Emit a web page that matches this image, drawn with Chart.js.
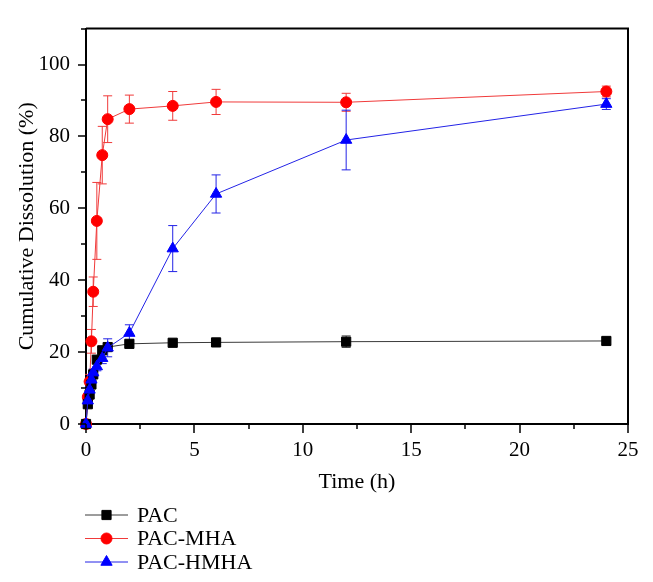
<!DOCTYPE html>
<html>
<head>
<meta charset="utf-8">
<script src="https://cdn.jsdelivr.net/npm/chart.js@4.4.0/dist/chart.umd.min.js"></script>
<style>
  html, body { margin: 0; padding: 0; background: #fff; }
  canvas { display: block; }
</style>
</head>
<body>
<canvas id="dissolutionChart" width="653" height="582"></canvas>
<script>
  // sampling times (h)
  const times = [0, 0.083, 0.167, 0.25, 0.333, 0.5, 0.75, 1, 2, 4, 6, 12, 24];

  // cumulative dissolution (%) and SD
  const pac     = [0, 5.5, 8.2, 11, 13.8, 17.9, 20.5, 21.4, 22.3, 22.6, 22.7, 22.9, 23.1];
  const pacErr  = [0, 0.8, 0.8, 0.8, 0.8, 0.8, 0.8, 0.6, 0.5, 0.5, 0.5, 1.6, 1.0];
  const mha     = [0, 7.5, 11.8, 23, 36.8, 56.5, 74.8, 84.8, 87.6, 88.5, 89.6, 89.5, 92.5];
  const mhaErr  = [0, 1, 2, 3.3, 4.1, 10.7, 8, 6.5, 3.9, 4, 3.5, 2.5, 1.5];
  const hmha    = [0, 6.5, 9.5, 12.3, 14.3, 16, 18.3, 21.2, 25.3, 48.8, 64, 79, 89];
  const hmhaErr = [0, 1, 1, 1, 1, 1.2, 1.5, 2.5, 2.3, 6.4, 5.3, 8.3, 1.5];

  const xTicks = [0, 5, 10, 15, 20, 25];
  const yTicks = [0, 20, 40, 60, 80, 100];

  const toPoints = ys => times.map((t, i) => ({ x: t, y: ys[i] }));

  Chart.defaults.font.family = "'Liberation Serif', 'DejaVu Serif', serif";
  Chart.defaults.font.size = 21;
  Chart.defaults.color = '#000';

  // error bars drawn from the scales, under the markers
  const errorBars = {
    id: 'errorBars',
    beforeDatasetsDraw(chart) {
      const { ctx, scales: { x, y } } = chart;
      chart.data.datasets.forEach((ds, i) => {
        ctx.save();
        ctx.strokeStyle = ds.borderColor;
        ctx.lineWidth = 1;
        ds.data.forEach((p, j) => {
          const e = ds.errors[j];
          if (!e) return;
          const px = x.getPixelForValue(p.x);
          const top = y.getPixelForValue(p.y + e);
          const bot = y.getPixelForValue(p.y - e);
          ctx.beginPath();
          ctx.moveTo(px, top); ctx.lineTo(px, bot);
          ctx.moveTo(px - 4.5, top); ctx.lineTo(px + 4.5, top);
          ctx.moveTo(px - 4.5, bot); ctx.lineTo(px + 4.5, bot);
          ctx.stroke();
        });
        ctx.restore();
      });
    }
  };

  // box frame + major/minor ticks
  const frame = {
    id: 'frame',
    afterDraw(chart) {
      const { ctx, chartArea: a, scales: { x, y } } = chart;
      ctx.save();
      ctx.strokeStyle = '#000';
      ctx.lineWidth = 2;
      ctx.beginPath();
      ctx.moveTo(a.left, a.top); ctx.lineTo(a.right, a.top); ctx.lineTo(a.right, a.bottom);
      ctx.stroke();
      ctx.lineWidth = 1.5;
      ctx.beginPath();
      for (let v = 0; v <= 25; v += 2.5) {
        const px = Math.round(x.getPixelForValue(v));
        const len = v % 5 === 0 ? 9 : 5;
        ctx.moveTo(px, a.bottom); ctx.lineTo(px, a.bottom + len);
      }
      for (let v = 0; v <= 110; v += 10) {
        const py = Math.round(y.getPixelForValue(v));
        const len = v % 20 === 0 ? 8 : 5;
        ctx.moveTo(a.left, py); ctx.lineTo(a.left - len, py);
      }
      ctx.stroke();
      ctx.restore();
    }
  };

  // vertical legend under the plot
  const legendList = {
    id: 'legendList',
    afterDraw(chart) {
      const ctx = chart.ctx;
      ctx.save();
      chart.data.datasets.forEach((ds, i) => {
        const yy = 515 + i * 23.5;
        ctx.strokeStyle = ds.borderColor;
        ctx.lineWidth = 1;
        ctx.beginPath();
        ctx.moveTo(85, yy); ctx.lineTo(128, yy);
        ctx.stroke();
        ctx.fillStyle = ds.pointBackgroundColor;
        ctx.strokeStyle = ds.pointBorderColor;
        Chart.helpers.drawPoint(ctx, { pointStyle: ds.pointStyle, radius: ds.pointRadius, borderWidth: 1, rotation: 0 }, 106.5, yy);
        ctx.fillStyle = '#000';
        ctx.font = "22px 'Liberation Serif', serif";
        ctx.textBaseline = 'middle';
        ctx.fillText(ds.label, 137, yy + 1);
      });
      ctx.restore();
    }
  };

  const ctx = document.getElementById('dissolutionChart').getContext('2d');

  new Chart(ctx, {
    type: 'scatter',
    data: {
      datasets: [
        {
          label: 'PAC',
          data: toPoints(pac),
          errors: pacErr,
          showLine: true,
          borderColor: '#3a3a3a',
          borderWidth: 1,
          pointStyle: 'rect',
          pointRadius: 6.5,
          pointBackgroundColor: '#000',
          pointBorderColor: '#000',
          clip: false,
          order: 1
        },
        {
          label: 'PAC-MHA',
          data: toPoints(mha),
          errors: mhaErr,
          showLine: true,
          borderColor: '#f03a3a',
          borderWidth: 1,
          pointStyle: 'circle',
          pointRadius: 5.5,
          pointBackgroundColor: '#ff0000',
          pointBorderColor: '#ff0000',
          clip: false,
          order: 2
        },
        {
          label: 'PAC-HMHA',
          data: toPoints(hmha),
          errors: hmhaErr,
          showLine: true,
          borderColor: '#2323e6',
          borderWidth: 1,
          pointStyle: 'triangle',
          pointRadius: 6.5,
          pointBackgroundColor: '#0000ff',
          pointBorderColor: '#0000ff',
          clip: false,
          order: 0
        }
      ]
    },
    options: {
      responsive: false,
      animation: false,
      layout: { padding: { top: 21, right: 25, bottom: 82, left: 0 } },
      plugins: { legend: { display: false }, tooltip: { enabled: false } },
      scales: {
        x: {
          type: 'linear',
          min: 0, max: 25,
          afterFit: s => { s.height = 76; },
          afterBuildTicks: s => { s.ticks = xTicks.map(v => ({ value: v })); },
          ticks: { padding: 14, maxRotation: 0 },
          grid: { display: false, drawTicks: false },
          border: { display: true, color: '#000', width: 2 },
          title: { display: true, text: 'Time (h)', font: { size: 22 }, padding: 4.8 }
        },
        y: {
          type: 'linear',
          min: 0, max: 110,
          afterFit: s => { s.width = 86; },
          afterBuildTicks: s => { s.ticks = yTicks.map(v => ({ value: v })); },
          ticks: { padding: 16 },
          grid: { display: false, drawTicks: false },
          border: { display: true, color: '#000', width: 2 },
          title: { display: true, text: 'Cumulative Dissolution (%)', font: { size: 22 }, padding: 13.8 }
        }
      }
    },
    plugins: [errorBars, frame, legendList]
  });
</script>
</body>
</html>
